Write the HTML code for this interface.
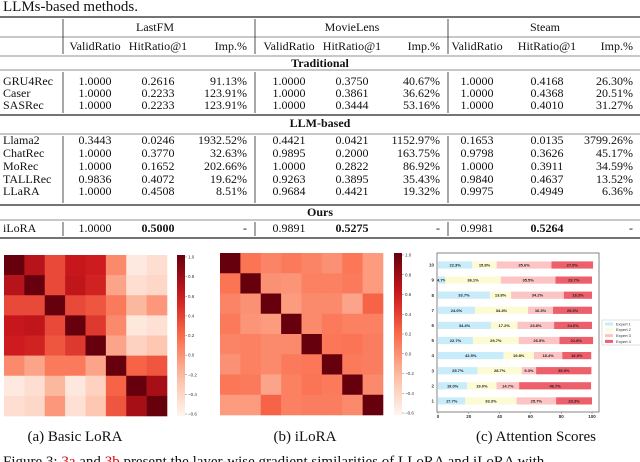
<!DOCTYPE html>
<html><head><meta charset="utf-8">
<style>
html,body{margin:0;padding:0;background:#fff;width:640px;height:462px;overflow:hidden}
svg{display:block}
.t{font-family:"Liberation Serif",serif;font-size:12px;fill:#111}
.b{font-weight:bold}
.cap{font-family:"Liberation Serif",serif;font-size:15px;fill:#111}
.tk{font-family:"Liberation Sans",sans-serif;font-size:4.5px;fill:#333}
</style></head>
<body>
<svg id="root" width="640" height="462" viewBox="0 0 640 462" xmlns="http://www.w3.org/2000/svg">
<text class="cap" x="3" y="11">LLMs-based methods.</text>
<g id="table"></g>
<g id="hmA"></g>
<g id="hmB"></g>
<g id="bars"></g>
<text class="cap" x="75" y="441" text-anchor="middle">(a) Basic LoRA</text>
<text class="cap" x="305" y="441" text-anchor="middle">(b) iLoRA</text>
<text class="cap" x="536" y="441" text-anchor="middle">(c) Attention Scores</text>
<text class="cap" x="3" y="466">Figure 3: <tspan fill="#d00">3a</tspan> and <tspan fill="#d00">3b</tspan> present the layer-wise gradient similarities of LLoRA and iLoRA with</text>
</svg>
<script>
const NS="http://www.w3.org/2000/svg";
const tableRows=[
 ["GRU4Rec","1.0000","0.2616","91.13%","1.0000","0.3750","40.67%","1.0000","0.4168","26.30%"],
 ["Caser","1.0000","0.2233","123.91%","1.0000","0.3861","36.62%","1.0000","0.4368","20.51%"],
 ["SASRec","1.0000","0.2233","123.91%","1.0000","0.3444","53.16%","1.0000","0.4010","31.27%"],
 ["Llama2","0.3443","0.0246","1932.52%","0.4421","0.0421","1152.97%","0.1653","0.0135","3799.26%"],
 ["ChatRec","1.0000","0.3770","32.63%","0.9895","0.2000","163.75%","0.9798","0.3626","45.17%"],
 ["MoRec","1.0000","0.1652","202.66%","1.0000","0.2822","86.92%","1.0000","0.3911","34.59%"],
 ["TALLRec","0.9836","0.4072","19.62%","0.9263","0.3895","35.43%","0.9840","0.4637","13.52%"],
 ["LLaRA","1.0000","0.4508","8.51%","0.9684","0.4421","19.32%","0.9975","0.4949","6.36%"],
 ["iLoRA","1.0000","0.5000","-","0.9891","0.5275","-","0.9981","0.5264","-"]
];
const rowY=[85,97,109,144,157,170,183,195,232];
const datasets=["LastFM","MovieLens","Steam"];
const sections=[["Traditional",67],["LLM-based",127],["Ours",216]];
function el(tag,attrs,parent,text){const e=document.createElementNS(NS,tag);for(const k in attrs)e.setAttribute(k,attrs[k]);if(text!==undefined)e.textContent=text;parent.appendChild(e);return e;}
const T=document.getElementById('table');
const colX=[[95,"middle"],[158,"middle"],[247,"end"],[289,"middle"],[352,"middle"],[440,"end"],[477,"middle"],[547,"middle"],[633,"end"]];
const rules=[[17,1.3],[37,0.6],[56,0.6],[70,0.6],[115,1.3],[134,0.6],[205,1.3],[220,0.6],[238,1.3]];
rules.forEach(r=>{const l=el('line',{x1:0,x2:640,y1:r[0],y2:r[0],stroke:'#222','stroke-width':r[1]},T);

});
[[63,17,56],[255,17,56],[448,17,56],[63,70,115],[255,70,115],[448,70,115],[63,134,205],[255,134,205],[448,134,205],[63,220,238],[255,220,238],[448,220,238]].forEach(v=>{
 const l=el('line',{x1:v[0],x2:v[0],y1:v[1]+2,y2:v[2]-2,stroke:'#222','stroke-width':0.8},T);
 
 });
[155,352,545].forEach((x,i)=>{const t=el('text',{x:x,y:31,'text-anchor':'middle',class:'t'},T,datasets[i]);
 
 });
const subs=["ValidRatio","HitRatio@1","Imp.%"];
for(let d=0;d<3;d++)for(let s=0;s<3;s++){const c=colX[d*3+s];
 const t=el('text',{x:c[0],y:50,'text-anchor':c[1],class:'t'},T,subs[s]);
 
 }
sections.forEach(s=>{const t=el('text',{x:320,y:s[1],'text-anchor':'middle',class:'t b'},T,s[0]);
 
 });
tableRows.forEach((r,i)=>{const y=rowY[i];
 const m=el('text',{x:3,y:y,class:'t'},T,r[0]);
 
 
 for(let j=1;j<10;j++){const c=colX[j-1];const bold=(i===8&&(j===2||j===5||j===8));
  const t=el('text',{x:c[0],y:y,'text-anchor':c[1],class:bold?'t b':'t'},T,r[j]);
  
  }
});
const hmAValues=[
 [1,.80,.60,.76,.74,.40,.05,.10],
 [.80,1,.60,.78,.72,.32,.10,.13],
 [.60,.60,1,.60,.56,.45,.26,.36],
 [.76,.78,.60,1,.65,.40,.06,.09],
 [.74,.72,.56,.65,1,.32,.15,.20],
 [.40,.32,.45,.45,.32,1,.52,.56],
 [.05,.10,.26,.06,.15,.52,1,.84],
 [.10,.13,.36,.09,.20,.56,.84,1]];
const hmBValues=[
 [1,.47,.42,.45,.42,.38,.46,.35],
 [.47,1,.38,.37,.43,.43,.45,.35],
 [.42,.38,1,.35,.40,.40,.32,.52],
 [.45,.37,.35,1,.40,.45,.43,.43],
 [.42,.43,.40,.40,1,.46,.47,.44],
 [.38,.43,.40,.45,.46,1,.45,.44],
 [.46,.45,.32,.43,.47,.45,1,.40],
 [.35,.35,.52,.43,.44,.44,.40,1]];
const cbTicks=["1.0","0.8","0.6","0.4","0.2","0.0","−0.2","−0.4","−0.6"];
const stops=[[255,245,240],[252,187,161],[251,106,74],[203,24,29],[103,0,13]];
function reds(v){v=Math.max(0,Math.min(1,v))*4;const i=Math.min(3,Math.floor(v)),f=v-i;const a=stops[i],b=stops[i+1];
 return `rgb(${a.map((c,k)=>Math.round(c+(b[k]-c)*f)).join(',')})`;}
function heat(gid,vals,x0,y0,x1,y1,cbx){
 const g=document.getElementById(gid);const n=vals.length;const cw=(x1-x0)/n,ch=(y1-y0)/n;
 vals.forEach((row,r)=>row.forEach((v,c)=>{
  const rc=el('rect',{x:x0+c*cw,y:y0+r*ch,width:cw+0.3,height:ch+0.3,fill:reds(v)},g);
  
  }));
 const grad=el('linearGradient',{id:gid+'g',x1:0,y1:1,x2:0,y2:0},g);
 for(let k=0;k<=10;k++)el('stop',{offset:k/10,'stop-color':reds(k/10)},grad);
 const cb=el('rect',{x:cbx,y:y0,width:8,height:y1-y0,fill:`url(#${gid}g)`},g);
 
 
 cbTicks.forEach((t,k)=>{const y=y0+2+k*(y1-y0-4)/(cbTicks.length-1);
  el('line',{x1:cbx+8,x2:cbx+10,y1:y,y2:y,stroke:'#555','stroke-width':0.4},g);
  const tx=el('text',{x:cbx+11,y:y+1.5,class:'tk'},g,t);
  
  });
}
heat('hmA',hmAValues,4,255,167,416,177);
heat('hmB',hmBValues,220,253,383,415,394);
const barLabels=["10","9","8","7","6","5","4","3","2","1"];
const expert1=[22.3,4.7,33.7,24.0,34.4,22.7,42.5,25.7,19.0,17.7];
const expert2=[15.8,36.1,13.8,34.4,17.2,29.7,19.8,28.7,19.0,33.3];
const expert3=[35.6,35.5,34.2,16.3,23.8,26.5,18.4,9.3,14.7,25.7];
const expert4=[27.0,23.7,18.3,25.3,24.6,21.8,18.8,35.9,46.7,23.3];
const xTicks=[0,20,40,60,80,100];
const seriesNames=["Expert 1","Expert 2","Expert 3","Expert 4"];
const colors=["#c9ecfa","#fdfbd4","#fcc4c4","#ec5f6b"];
const B=document.getElementById('bars');
const ax0=438,ax1=592,topY=253,botY=412;
const xs=v=>ax0+(ax1-ax0)*v/100;
const ys=i=>265+i*15.1;
const frame=el('rect',{x:437,y:topY,width:162,height:botY-topY,fill:'none',stroke:'#666','stroke-width':0.8},B);


const series=[expert1,expert2,expert3,expert4];
barLabels.forEach((lab,i)=>{let acc=0;const y=ys(i);
 series.forEach((s,k)=>{const v=s[i];
  const r=el('rect',{x:xs(acc),y:y-3.6,width:xs(acc+v)-xs(acc),height:7.2,fill:colors[k]},B);
  
  
  const t=el('text',{x:xs(acc+v/2),y:y+1.5,'text-anchor':'middle',class:'tk',style:'font-size:4px;fill:#222;font-weight:bold'},B,v.toFixed(1)+'%');
  
  
  acc+=v;});
 const yl=el('text',{x:434,y:y+1.6,'text-anchor':'end',class:'tk',style:'font-weight:bold'},B,lab);
 
 
});
xTicks.forEach(t=>{el('line',{x1:xs(t),x2:xs(t),y1:botY,y2:botY+2,stroke:'#555','stroke-width':0.4},B);
 const tx=el('text',{x:xs(t),y:botY+6,'text-anchor':'middle',class:'tk',style:'font-weight:bold'},B,t);
 
 });
const lg=el('g',{},B);


el('rect',{x:602,y:320,width:40,height:25,fill:'#fff',stroke:'#ccc','stroke-width':0.6},lg);
seriesNames.forEach((n,k)=>{const y=324+k*5.8;
 const sw=el('rect',{x:605,y:y-1.5,width:8,height:3,fill:colors[k]},lg);
 
 
 const t=el('text',{x:616,y:y+1.4,class:'tk',style:'font-size:4px'},lg,n);
 
 });
</script>
</body></html>
